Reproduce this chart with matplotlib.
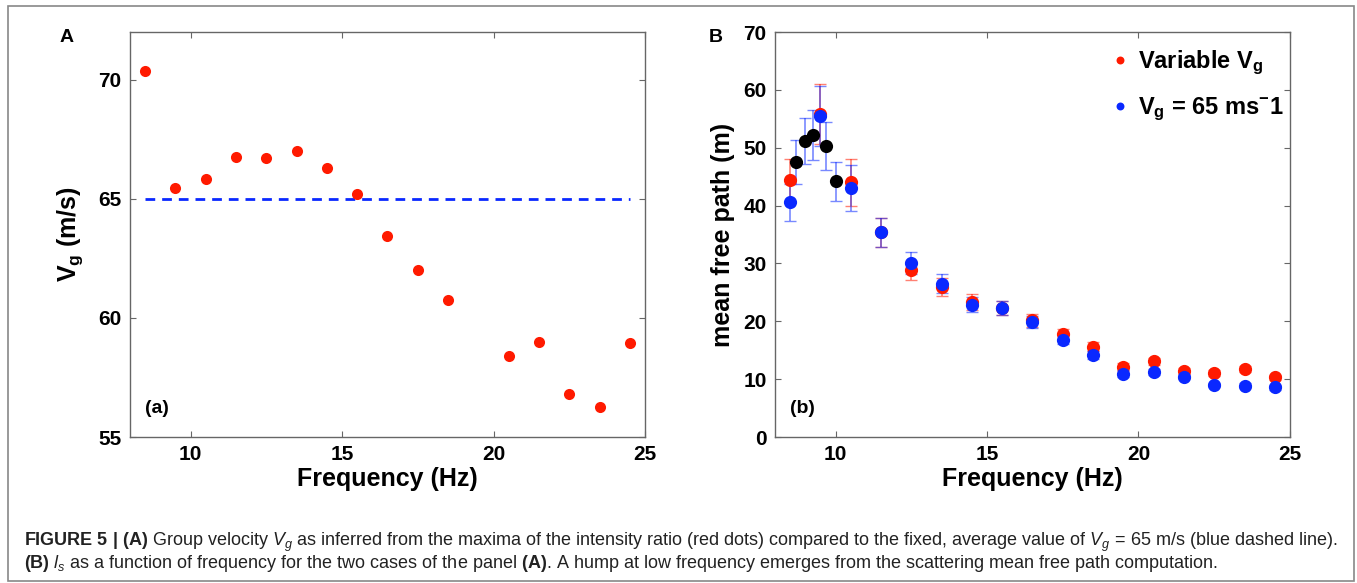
import matplotlib
matplotlib.use("Agg")
import matplotlib.pyplot as plt
from matplotlib.patches import Rectangle

plt.rcParams["font.family"] = ["Liberation Sans", "DejaVu Sans"]
plt.rcParams["mathtext.fontset"] = "custom"
plt.rcParams["mathtext.rm"] = "Liberation Sans"
plt.rcParams["mathtext.it"] = "Liberation Sans:italic"
plt.rcParams["mathtext.bf"] = "Liberation Sans:bold"

# panel A: group velocity per frequency band (no value at 19.5 Hz)
freq_a = [8.5, 9.5, 10.5, 11.5, 12.5, 13.5, 14.5, 15.5, 16.5, 17.5, 18.5,
          20.5, 21.5, 22.5, 23.5, 24.5]
vg = [70.35, 65.45, 65.85, 66.75, 66.7, 67.0, 66.3, 65.2, 63.45, 62.0, 60.75,
      58.4, 59.0, 56.8, 56.25, 58.95]
vg_fixed = 65

# panel B: mean free path
freq_b = [8.5, 9.5, 10.5, 11.5, 12.5, 13.5, 14.5, 15.5, 16.5, 17.5, 18.5,
          19.5, 20.5, 21.5, 22.5, 23.5, 24.5]
mfp_var = [44.4, 55.8, 44.0, 35.4, 28.8, 25.9, 23.3, 22.3, 20.2, 17.8, 15.6,
           12.1, 13.1, 11.4, 11.1, 11.8, 10.3]
err_var = [3.6, 5.2, 4.0, 2.5, 1.7, 1.5, 1.4, 1.2, 1.1, 0.8, 0.8,
           0.7, 0.6, 0.5, 0.5, 0.5, 0.4]
mfp_65 = [40.6, 55.5, 43.1, 35.4, 30.1, 26.5, 22.9, 22.3, 19.9, 16.8, 14.1,
          10.9, 11.3, 10.4, 9.0, 8.9, 8.6]
err_65 = [3.2, 5.2, 4.0, 2.5, 1.9, 1.6, 1.3, 1.15, 1.0, 0.8, 0.7,
          0.6, 0.5, 0.4, 0.4, 0.4, 0.4]
# finer sampling of the low-frequency hump
freq_fine = [8.7, 9.0, 9.25, 9.7, 10.0]
mfp_fine = [47.5, 51.2, 52.2, 50.3, 44.2]
err_fine = [3.8, 4.0, 4.3, 4.2, 3.4]

RED = "#ff1a00"
BLUE = "#0a28ff"


def style_axes(ax):
    for sp in ax.spines.values():
        sp.set_color("#666666")
        sp.set_linewidth(1.0)
    ax.tick_params(direction="in", length=4, width=0.8, color="#666666",
                   top=True, right=True, labelsize=15, pad=6)
    for lab in ax.get_xticklabels() + ax.get_yticklabels():
        lab.set_fontweight("bold")


fig = plt.figure(figsize=(13.57, 5.83), dpi=100)

# panel A
ax1 = fig.add_axes([0.0958, 0.2504, 0.3795, 0.6947])
ax1.plot([freq_a[0], freq_a[-1]], [vg_fixed, vg_fixed], "--", color=BLUE, lw=2, dashes=(3.5, 2.5))
ax1.plot(freq_a, vg, "o", color=RED, ms=8, mec="none")
ax1.set_xlim(8, 25)
ax1.set_ylim(55, 72)
ax1.set_xticks([10, 15, 20, 25])
ax1.set_yticks([55, 60, 65, 70])
style_axes(ax1)
ax1.set_xlabel("Frequency (Hz)", fontsize=18, fontweight="bold", labelpad=2)
ax1.set_ylabel(r"$\mathbf{V_g}$ (m/s)", fontsize=18, fontweight="bold", labelpad=10)
ax1.text(0.03, 0.06, "(a)", transform=ax1.transAxes, fontsize=14, fontweight="bold")

# panel B
ax2 = fig.add_axes([0.5711, 0.2504, 0.3795, 0.6947])
ebkw = dict(fmt="none", capsize=4, elinewidth=1.2, capthick=1.0, alpha=0.55)
ax2.errorbar(freq_b, mfp_var, yerr=err_var, ecolor=RED, **ebkw)
ax2.errorbar(freq_b, mfp_65, yerr=err_65, ecolor=BLUE, **ebkw)
ax2.errorbar(freq_fine, mfp_fine, yerr=err_fine, ecolor=BLUE, **ebkw)
ax2.plot(freq_b, mfp_var, "o", color=RED, ms=9.5, mec="none", label=r"Variable $\mathbf{V_g}$")
ax2.plot(freq_b, mfp_65, "o", color=BLUE, ms=9.5, mec="none",
         label=r"$\mathbf{V_g}$ = 65 ms$^{\mathbf{-}}$1")
ax2.plot(freq_fine, mfp_fine, "o", color="black", ms=9.5, mec="none")
ax2.set_xlim(8, 25)
ax2.set_ylim(0, 70)
ax2.set_xticks([10, 15, 20, 25])
ax2.set_yticks(range(0, 71, 10))
style_axes(ax2)
ax2.set_xlabel("Frequency (Hz)", fontsize=18, fontweight="bold", labelpad=2)
ax2.set_ylabel("mean free path (m)", fontsize=18, fontweight="bold", labelpad=6)
ax2.text(0.03, 0.06, "(b)", transform=ax2.transAxes, fontsize=14, fontweight="bold")
ax2.legend(loc="upper right", frameon=False, markerscale=0.6, handlelength=0.8,
           handletextpad=0.35, labelspacing=0.8, prop=dict(size=17, weight="bold"),
           bbox_to_anchor=(1.02, 1.0), borderaxespad=0.3)

fig.text(67 / 1357, 1 - 37 / 583, "A", fontsize=14, fontweight="bold", va="center", ha="center")
fig.text(716 / 1357, 1 - 37 / 583, "B", fontsize=14, fontweight="bold", va="center", ha="center")

cap1 = (r"$\mathbf{FIGURE\ 5\ |\ (A)}$ Group velocity $V_g$ as inferred from the maxima of the "
        r"intensity ratio (red dots) compared to the fixed, average value of $V_g$ = 65 m/s "
        r"(blue dashed line).")
cap2 = (r"$\mathbf{(B)}$ $l_s$ as a function of frequency for the two cases of the panel "
        r"$\mathbf{(A)}$. A hump at low frequency emerges from the scattering mean free path computation.")
fig.text(24 / 1357, 1 - 542 / 583, cap1, fontsize=13, color="#222222", va="center")
fig.text(24 / 1357, 1 - 564 / 583, cap2, fontsize=13, color="#222222", va="center")

fig.patches.append(Rectangle((8 / 1357, 1 - 581 / 583), 1346 / 1357, 575 / 583,
                             transform=fig.transFigure, fill=False, ec="#888888", lw=1.2))

fig.savefig("out.png", dpi=100)
